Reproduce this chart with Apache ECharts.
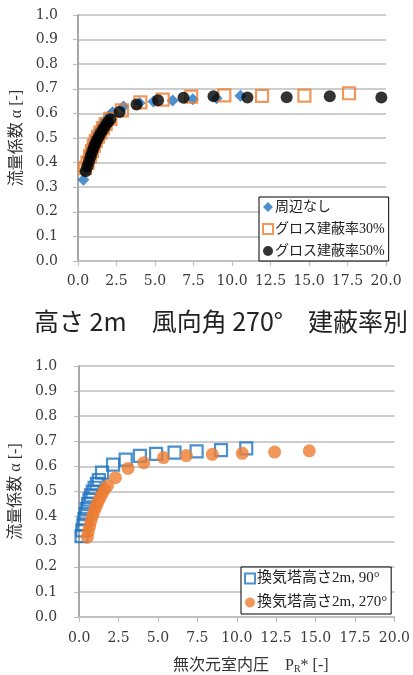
<!DOCTYPE html>
<html>
<head>
<meta charset="utf-8">
<script src="https://cdn.jsdelivr.net/npm/echarts@6/dist/echarts.min.js"></script>
<style>
  html, body { margin: 0; padding: 0; background: #fff; }
  #chart { width: 413px; height: 675px; }
</style>
</head>
<body>
<div id="chart"></div>
<script>
// Flow coefficient α versus dimensionless room pressure PR*

// --- upper panel: by building coverage ---
const seriesNamesTop = ['周辺なし', 'グロス建蔽率30%', 'グロス建蔽率50%'];
const noSurroundPts = [
  [0.35,0.330],[0.45,0.365],[0.55,0.395],[0.65,0.420],[0.75,0.440],[0.85,0.460],
  [0.95,0.478],[1.05,0.493],[1.15,0.507],[1.25,0.520],[1.38,0.533],[1.5,0.546],
  [1.65,0.560],[1.8,0.573],[2.0,0.588],[2.25,0.605],[2.95,0.628],[4.0,0.642],
  [4.9,0.648],[6.15,0.652],[7.45,0.658],[9.0,0.662],[10.55,0.672]
];
const coverage30Pts = [
  [0.45,0.378],[0.62,0.400],[0.78,0.425],[0.9,0.447],[1.02,0.468],[1.15,0.487],
  [1.3,0.505],[1.45,0.522],[1.62,0.540],[1.8,0.556],[2.1,0.578],[2.85,0.612],
  [4.05,0.645],[5.5,0.656],[7.35,0.668],[9.5,0.673],[11.95,0.671],[14.7,0.672],
  [17.6,0.682]
];
const coverage50Pts = [
  [0.5,0.365],[0.62,0.385],[0.72,0.405],[0.82,0.425],[0.92,0.443],[1.02,0.460],
  [1.12,0.476],[1.22,0.490],[1.35,0.505],[1.48,0.520],[1.62,0.535],[1.78,0.550],
  [1.95,0.565],[2.1,0.576],[2.7,0.606],[3.8,0.636],[5.2,0.653],[6.85,0.664],
  [8.8,0.670],[11.0,0.665],[13.55,0.666],[16.35,0.670],[19.7,0.665]
];

// --- lower panel: by wind direction ---
const seriesNamesBottom = ['換気塔高さ2m, 90°', '換気塔高さ2m, 270°'];
const dir90Pts = [
  [0.15,0.322],[0.2,0.345],[0.27,0.368],[0.33,0.390],[0.4,0.410],[0.48,0.430],
  [0.56,0.450],[0.65,0.468],[0.75,0.485],[0.86,0.500],[0.98,0.515],[1.12,0.530],
  [1.25,0.545],[1.45,0.575],[2.15,0.607],[2.95,0.627],[3.85,0.642],[4.88,0.650],
  [6.05,0.655],[7.45,0.660],[9.0,0.665],[10.6,0.672]
];
const dir270Pts = [
  [0.52,0.318],[0.58,0.340],[0.66,0.362],[0.75,0.383],[0.85,0.403],[0.96,0.422],
  [1.07,0.440],[1.2,0.458],[1.33,0.475],[1.47,0.492],[1.62,0.508],[1.8,0.523],
  [2.3,0.555],[3.1,0.592],[4.1,0.615],[5.35,0.635],[6.8,0.643],[8.45,0.648],
  [10.35,0.652],[12.4,0.657],[14.6,0.662]
];

// axis ranges
const xRange = { min: 0, max: 20, interval: 2.5 };
const yRange = { min: 0, max: 1, interval: 0.1 };

const titleText = '高さ 2m　風向角 270°　建蔽率別';
const yAxisTitle = '流量係数 α [-]';

const BLUE = '#1F74C2';
const ORANGE = '#ED7D31';
const TICK_FONT = 'DejaVu Serif';
const MIXED = 'Liberation Serif, Noto Sans CJK JP, serif';

function tickLabel(margin) {
  return {
    margin, color: '#3A3A3A', fontFamily: TICK_FONT, fontSize: 14,
    formatter: v => v.toFixed(1)
  };
}

function makeX(gridIndex, labelMargin, withName) {
  const ax = {
    type: 'value', gridIndex,
    min: xRange.min, max: xRange.max, interval: xRange.interval,
    axisLine: { show: true, lineStyle: { color: '#BDBDBD', width: 1.5 } },
    axisTick: { show: true, inside: false, length: 5, lineStyle: { color: '#BDBDBD', width: 1.2 } },
    splitLine: { show: false },
    axisLabel: tickLabel(labelMargin)
  };
  if (withName) {
    ax.name = '無次元室内圧　P{s|R}* [-]';
    ax.nameLocation = 'middle';
    ax.nameGap = 41;
    ax.nameTextStyle = {
      fontFamily: MIXED, fontSize: 16, color: '#333', padding: [0, 0, 0, 28],
      rich: { s: { fontFamily: MIXED, fontSize: 10, color: '#333', verticalAlign: 'bottom', padding: [6, 0, 0, 0] } }
    };
  }
  return ax;
}

function makeY(gridIndex, labelMargin, nameGap) {
  return {
    type: 'value', gridIndex,
    min: yRange.min, max: yRange.max, interval: yRange.interval,
    name: yAxisTitle, nameLocation: 'middle', nameRotate: 90, nameGap,
    nameTextStyle: { fontFamily: MIXED, fontSize: 16, color: '#333' },
    axisLine: { show: true, lineStyle: { color: '#8A8A8A', width: 1.5 } },
    axisTick: { show: true, inside: false, length: 5, lineStyle: { color: '#BDBDBD', width: 1.2 } },
    splitLine: { show: true, lineStyle: { color: '#BDBDBD', width: 1.5 } },
    axisLabel: tickLabel(labelMargin)
  };
}

const legendBase = {
  orient: 'vertical', backgroundColor: '#fff', borderColor: '#000', borderWidth: 1,
  itemWidth: 10, itemHeight: 10, itemGap: 8, borderRadius: 0,
  textStyle: { fontFamily: MIXED, fontSize: 14, color: '#222', padding: [0, 0, 0, -3] }
};

const option = {
  animation: false,
  backgroundColor: '#fff',
  title: {
    text: titleText, left: 29, top: 304,
    textStyle: { fontFamily: 'Noto Sans CJK JP, sans-serif', fontSize: 25, fontWeight: 'normal', color: '#222' }
  },
  grid: [
    { left: 78, top: 15, width: 308, height: 246 },
    { left: 77, top: 366, width: 321, height: 253 }
  ],
  xAxis: [makeX(0, 13, false), makeX(1, 14, true)],
  yAxis: [makeY(0, 20, 38), makeY(1, 22, 37)],
  legend: [
    Object.assign({}, legendBase, {
      data: seriesNamesTop, left: 259, top: 197, padding: [3, 4, 3, 3]
    }),
    Object.assign({}, legendBase, {
      data: seriesNamesBottom, left: 241, top: 567, itemGap: 9, padding: [4, 4, 4, 3],
      textStyle: { fontFamily: MIXED, fontSize: 15, color: '#222', padding: [0, 0, 0, -3] }
    })
  ],
  series: [
    {
      name: seriesNamesTop[0], type: 'scatter', xAxisIndex: 0, yAxisIndex: 0,
      symbol: 'diamond', symbolSize: 12, data: noSurroundPts,
      itemStyle: { color: BLUE }
    },
    {
      name: seriesNamesTop[1], type: 'scatter', xAxisIndex: 0, yAxisIndex: 0,
      symbol: 'rect', symbolSize: 12, data: coverage30Pts,
      itemStyle: { color: 'rgba(255,255,255,0)', borderColor: ORANGE, borderWidth: 2.2 }
    },
    {
      name: seriesNamesTop[2], type: 'scatter', xAxisIndex: 0, yAxisIndex: 0,
      symbol: 'circle', symbolSize: 12, data: coverage50Pts,
      itemStyle: { color: '#000' }
    },
    {
      name: seriesNamesBottom[0], type: 'scatter', xAxisIndex: 1, yAxisIndex: 1,
      symbol: 'rect', symbolSize: 12, data: dir90Pts,
      itemStyle: { color: 'rgba(255,255,255,0)', borderColor: BLUE, borderWidth: 2.2 }
    },
    {
      name: seriesNamesBottom[1], type: 'scatter', xAxisIndex: 1, yAxisIndex: 1,
      symbol: 'circle', symbolSize: 13, data: dir270Pts,
      itemStyle: { color: ORANGE }
    }
  ]
};

const chart = echarts.init(document.getElementById('chart'), null, { renderer: 'canvas' });
chart.setOption(option);
</script>
</body>
</html>
